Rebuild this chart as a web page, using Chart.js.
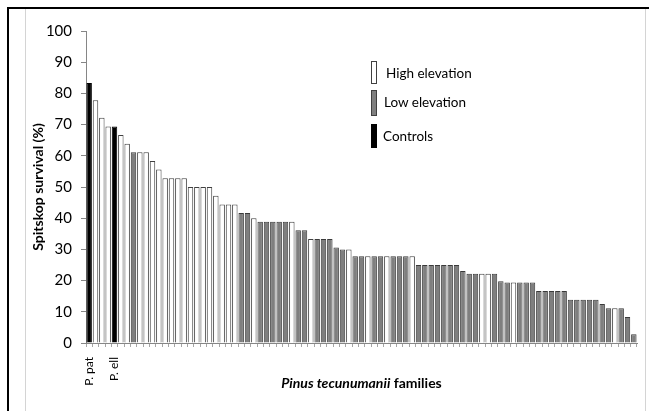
<!DOCTYPE html>
<html>
<head>
<meta charset="utf-8">
<script src="https://cdn.jsdelivr.net/npm/chart.js@4/dist/chart.umd.min.js"></script>
<style>
  html, body { margin: 0; padding: 0; background: #fff; }
  #wrap { position: relative; width: 649px; height: 411px; overflow: hidden; font-family: Lato, "Liberation Sans", sans-serif; }
  #c { position: absolute; left: 0; top: 0; }
  .frameTop { position: absolute; left: 7px; top: 7px; width: 642px; height: 2px; background: #000; }
  .frameLeft { position: absolute; left: 7px; top: 7px; width: 2px; height: 404px; background: #000; }
  .grayL { position: absolute; left: 25px; top: 9px; width: 1px; height: 402px; background: #d4d4d4; }
  .grayR { position: absolute; left: 645px; top: 9px; width: 1px; height: 402px; background: #d4d4d4; }
  .leg { position: absolute; font-size: 13.5px; color: #000; white-space: nowrap; }
  .legbox { position: absolute; width: 4px; border: 1px solid #404040; }
  #xtitle { position: absolute; top: 374px; left: 86px; width: 551px; text-align: center; font-size: 14px; font-weight: bold; color: #000; }
</style>
</head>
<body>
<div id="wrap">
  <canvas id="c" width="649" height="411"></canvas>
  <div class="frameTop"></div>
  <div class="frameLeft"></div>
  <div class="grayL"></div>
  <div class="grayR"></div>
  <div class="legbox" style="left:371px;top:61px;height:21px;background:#fff;"></div>
  <div class="leg" style="left:386px;top:65px;">High elevation</div>
  <div class="legbox" style="left:371px;top:90px;height:24px;background:#7f7f7f;"></div>
  <div class="leg" style="left:384px;top:94px;">Low elevation</div>
  <div class="legbox" style="left:371px;top:124px;height:22px;background:#000;border-color:#000;"></div>
  <div class="leg" style="left:383px;top:128px;">Controls</div>
  <div id="xtitle"><i>Pinus tecunumanii</i> families</div>
</div>
<script>
// Survival (%) per family, in plotted order
const survival = [
  83.3, 77.8, 72.2, 69.4, 69.4, 66.7, 63.9, 61.1, 61.1, 61.1,
  58.3, 55.6, 52.8, 52.8, 52.8, 52.8, 50.0, 50.0, 50.0, 50.0,
  47.2, 44.4, 44.4, 44.4, 41.7, 41.7, 40.0, 38.9, 38.9, 38.9,
  38.9, 38.9, 38.9, 36.1, 36.1, 33.3, 33.3, 33.3, 33.3, 30.6,
  30.0, 30.0, 27.8, 27.8, 27.8, 27.8, 27.8, 27.8, 27.8, 27.8,
  27.8, 27.8, 25.0, 25.0, 25.0, 25.0, 25.0, 25.0, 25.0, 23.1,
  22.2, 22.2, 22.2, 22.2, 22.2, 19.8, 19.4, 19.4, 19.4, 19.4,
  19.4, 16.7, 16.7, 16.7, 16.7, 16.7, 13.9, 13.9, 13.9, 13.9,
  13.9, 12.5, 11.1, 11.1, 11.1, 8.3, 2.8
];
// Group: C = control, H = high elevation, L = low elevation
const groups = [
  'C','H','H','H','C','H','H','L','H','H',
  'H','H','H','H','H','H','H','H','H','H',
  'H','H','H','H','L','L','H','L','L','L',
  'L','L','H','L','L','H','L','L','L','L',
  'L','H','L','L','H','L','L','H','L','L',
  'L','H','L','L','L','L','L','L','L','L',
  'L','L','H','H','L','L','L','H','L','L',
  'L','L','L','L','L','L','L','L','L','L',
  'L','L','L','H','L','L','L'
];
// Category labels (only the controls are named)
const familyLabels = survival.map((v, i) => i === 0 ? 'P. pat' : (i === 4 ? 'P. ell' : ''));
const yTicks = [0, 10, 20, 30, 40, 50, 60, 70, 80, 90, 100];

const fillFor = { C: '#000000', H: '#ffffff', L: '#7f7f7f' };
const edgeFor = { C: '#000000', H: '#404040', L: '#3a3a3a' };

new Chart(document.getElementById('c'), {
  type: 'bar',
  data: {
    labels: familyLabels,
    datasets: [{
      data: survival,
      backgroundColor: groups.map(g => fillFor[g]),
      borderColor: groups.map(g => edgeFor[g]),
      borderWidth: 1,
      barPercentage: 0.86,
      categoryPercentage: 1.0
    }]
  },
  options: {
    responsive: false,
    animation: false,
    devicePixelRatio: 1,
    layout: { padding: { left: 24, right: 12, top: 31, bottom: 0 } },
    plugins: { legend: { display: false }, tooltip: { enabled: false } },
    scales: {
      y: {
        min: 0, max: 100,
        afterBuildTicks: (s) => { s.ticks = yTicks.map(v => ({ value: v })); },
        afterFit: (s) => { s.width = 62; s.paddingTop = 0; s.paddingBottom = 0; },
        ticks: { color: '#000', font: { family: 'Lato', size: 15 }, padding: 9 },
        grid: { drawOnChartArea: false, drawTicks: true, tickLength: 5, color: '#868686' },
        border: { color: '#868686' },
        title: { display: true, text: 'Spitskop survival (%)', color: '#000',
                 font: { family: 'Lato', size: 14, weight: 'bold' }, padding: { top: 6, bottom: 0 } }
      },
      x: {
        afterFit: (s) => { s.height = 68; s.paddingLeft = 0; s.paddingRight = 0; },
        ticks: { autoSkip: false, maxRotation: 90, minRotation: 90, color: '#000',
                 font: { family: 'Lato', size: 12 }, padding: 10 },
        grid: { drawOnChartArea: false, drawTicks: true, tickLength: 4, color: '#a6a6a6' },
        border: { color: '#868686' }
      }
    }
  }
});
</script>
</body>
</html>
